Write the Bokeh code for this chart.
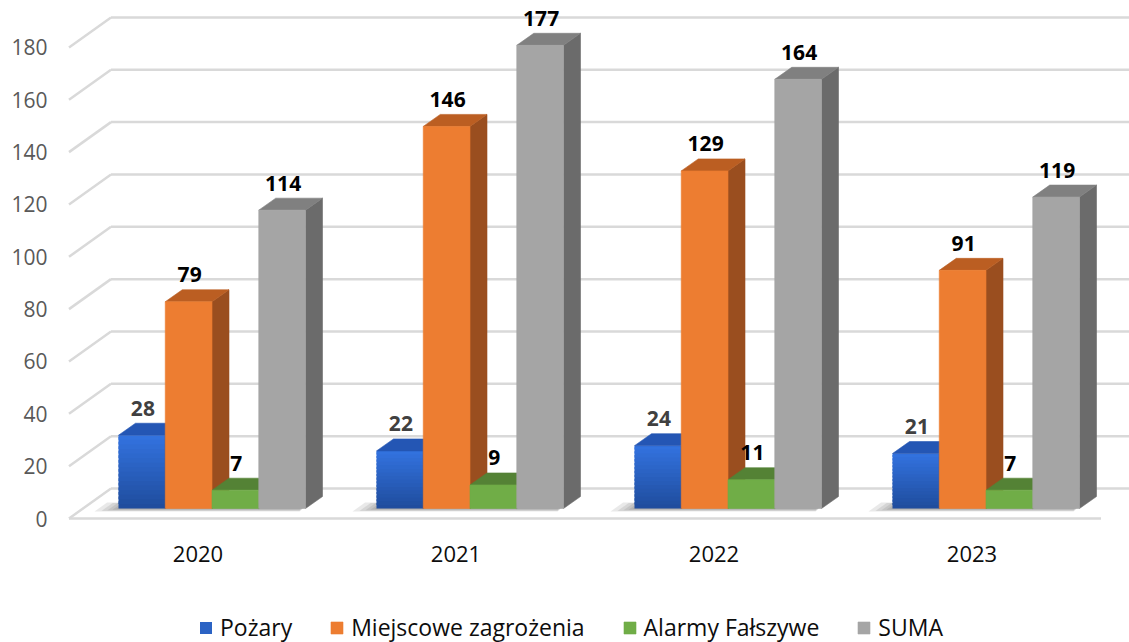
import numpy as np
from bokeh.plotting import figure
from bokeh.models import ColumnDataSource, FixedTicker, Legend, LegendItem, Range1d
from bokeh.core.properties import value
from bokeh.embed import file_html
from bokeh.resources import INLINE

# ---------------- data ----------------
years = ["2020", "2021", "2022", "2023"]
series_names = ["Pożary", "Miejscowe zagrożenia", "Alarmy Fałszywe", "SUMA"]
pozary = [28, 22, 24, 21]
miejscowe = [79, 146, 129, 91]
alarmy = [7, 9, 11, 7]
suma = [114, 177, 164, 119]
y_ticks = [0, 20, 40, 60, 80, 100, 120, 140, 160, 180]

# ---------------- style ----------------
front_colors = ["#2c64cc", "#ed7d31", "#70ad47", "#a5a5a5"]
top_colors = ["#2456b4", "#bb5e22", "#548235", "#808080"]
side_colors = ["#1d4590", "#9a4e1f", "#4a7530", "#6b6b6b"]
label_colors = ["#404040", "#000000", "#000000", "#000000"]
blue_top_c = np.array([0x33, 0x73, 0xe0])
blue_bot_c = np.array([0x1f, 0x4c, 0x9c])
grid_color = "#d9d9d9"
FONT = "Open Sans"

W, H = 1129, 642
PX_Y = 2.617          # pixels per value unit
PX_X = 258.0          # pixels per category
LEFT = 60             # frame left (plot px)
FRONT0_X = 68.5       # plot px of front-plane x=0
FRONT0_Y = 518.0      # plot px of front-plane value 0
TEXT_FIX = 9          # px correction for text baseline placement

def dxu(px):
    return px / PX_X

def dyu(px):
    return px / PX_Y

x_start = -(FRONT0_X - LEFT) / PX_X
x_end = x_start + (W - LEFT) / PX_X
y_end = FRONT0_Y / PX_Y
y_start = (FRONT0_Y - H) / PX_Y

p = figure(width=W, height=H, output_backend="svg", toolbar_location=None,
           x_range=Range1d(x_start, x_end), y_range=Range1d(y_start, y_end),
           min_border_left=LEFT, min_border_right=0, min_border_top=0,
           min_border_bottom=0)
p.outline_line_color = None
p.xgrid.visible = False
p.ygrid.visible = False
p.xaxis.visible = False
p.background_fill_color = "white"
p.border_fill_color = "white"

ya = p.yaxis[0]
ya.ticker = FixedTicker(ticks=y_ticks)
ya.axis_line_color = None
ya.major_tick_line_color = None
ya.minor_tick_line_color = None
ya.major_tick_out = 0
ya.major_tick_in = 0
ya.major_label_standoff = 13
ya.major_label_text_font = FONT
ya.major_label_text_font_size = "21px"
ya.major_label_text_color = "#595959"

# depth geometry (pixels)
BACK_DX, BACK_DY = 42, 30      # back wall relative to front plane
FACE_DX, FACE_DY = 14, 10      # bar front faces relative to front plane
TOP_DX, TOP_DY = 17, 12        # bar depth
BW = dxu(46.75)

# ---------------- walls / gridlines ----------------
gx, gy = [], []
for t in y_ticks:
    gx.append([dxu(BACK_DX), x_end])
    gy.append([t + dyu(BACK_DY), t + dyu(BACK_DY)])
    gx.append([0, dxu(BACK_DX)])
    gy.append([t, t + dyu(BACK_DY)])
gx.append([0, len(years)])
gy.append([0, 0])
p.multi_line(gx, gy, line_color=grid_color, line_width=2.5)

# ---------------- soft floor shadows ----------------
series_vals = [pozary, miejscowe, alarmy, suma]
shx, shy = [], []
for g in range(len(years)):
    xl0 = g + 0.5 + dxu(FACE_DX) - 2 * BW
    xr0 = xl0 + 4 * BW
    for s_px, dd in ((24, 0), (17, 1), (11, 2), (6, 3), (2, 4)):
        d0 = FACE_DY - 3 + dd * 0.6
        d1 = FACE_DY + 6 - dd * 0.4
        shx.append([xl0 - dxu(s_px), xr0 - dxu(6), xr0 + dxu(4),
                    xl0 - dxu(s_px) + dxu((d1 - d0) * 1.4)])
        shy.append([dyu(d0), dyu(d0), dyu(d1), dyu(d1)])
p.patches(shx, shy, fill_color="#555555", fill_alpha=0.13, line_color=None)

# ---------------- blue front faces (gradient) ----------------
NB = 16
ql, qr, qb, qt, qc = [], [], [], [], []
for g in range(len(years)):
    xl = g + 0.5 + dxu(FACE_DX) - 2 * BW
    v = pozary[g]
    for k in range(NB):
        f = (k + 0.5) / NB
        c = blue_bot_c + (blue_top_c - blue_bot_c) * f
        ql.append(xl)
        qr.append(xl + BW)
        qb.append(dyu(FACE_DY) + v * k / NB)
        qt.append(min(dyu(FACE_DY) + v * (k + 1.6) / NB, dyu(FACE_DY) + v))
        qc.append("#%02x%02x%02x" % tuple(int(round(x)) for x in c))
qsrc = ColumnDataSource(dict(left=ql, right=qr, bottom=qb, top=qt, color=qc))
r_blue = p.quad(left="left", right="right", bottom="bottom", top="top",
                fill_color="color", line_color=None, source=qsrc)

# ---------------- bar faces ----------------
fxs, fys, fcs = [], [], []
legend_idx = {}
lx, ly, lt, lc = [], [], [], []
for g in range(len(years)):
    for s in range(len(series_names)):
        v = series_vals[s][g]
        xl = g + 0.5 + dxu(FACE_DX) + (s - 2) * BW
        xr = xl + BW
        yb = dyu(FACE_DY)
        yt = yb + v
        tx, ty = dxu(TOP_DX), dyu(TOP_DY)
        # side
        fxs.append([xr, xr + tx, xr + tx, xr])
        fys.append([yb, yb + ty, yt + ty, yt])
        fcs.append(side_colors[s])
        # top
        fxs.append([xl, xr, xr + tx, xl + tx])
        fys.append([yt, yt, yt + ty, yt + ty])
        fcs.append(top_colors[s])
        # front
        if s > 0:
            if s not in legend_idx:
                legend_idx[s] = len(fxs)
            fxs.append([xl, xr, xr, xl])
            fys.append([yb, yb, yt, yt])
            fcs.append(front_colors[s])
        lx.append((xl + xr) / 2 + dxu(1))
        ly.append(yt + ty + dyu(6 + TEXT_FIX))
        lt.append(str(v))
        lc.append(label_colors[s])

fsrc = ColumnDataSource(dict(xs=fxs, ys=fys, color=fcs))
r_faces = p.patches("xs", "ys", fill_color="color", line_color="color",
                    line_width=0.6, source=fsrc)

# ---------------- data labels ----------------
lsrc = ColumnDataSource(dict(x=lx, y=ly, text=lt, color=lc))
p.text("x", "y", text="text", source=lsrc, text_font=value(FONT),
       text_font_style="bold", text_font_size="21px", text_align="center",
       text_baseline="alphabetic", text_color="color")

# ---------------- category labels ----------------
cat_x = [i + 0.5 for i in range(len(years))]
p.text(x=cat_x, y=[dyu(-44 + TEXT_FIX)] * len(years), text=years,
       text_font=value(FONT), text_font_size="22px", text_align="center",
       text_baseline="alphabetic", text_color="#0d0d0d")

# ---------------- legend ----------------
items = [LegendItem(label=series_names[0], renderers=[r_blue], index=9)]
for s in range(1, 4):
    items.append(LegendItem(label=series_names[s], renderers=[r_faces],
                            index=legend_idx[s]))
legend = Legend(items=items, orientation="horizontal", location=(138, -1),
                glyph_width=15, glyph_height=15, label_standoff=7, spacing=37,
                padding=0, margin=0, border_line_color=None,
                background_fill_alpha=0, label_text_font=FONT,
                label_text_font_size="23px", label_text_color="#0d0d0d")
p.add_layout(legend)

open("out.html", "w").write(file_html(p, INLINE))
